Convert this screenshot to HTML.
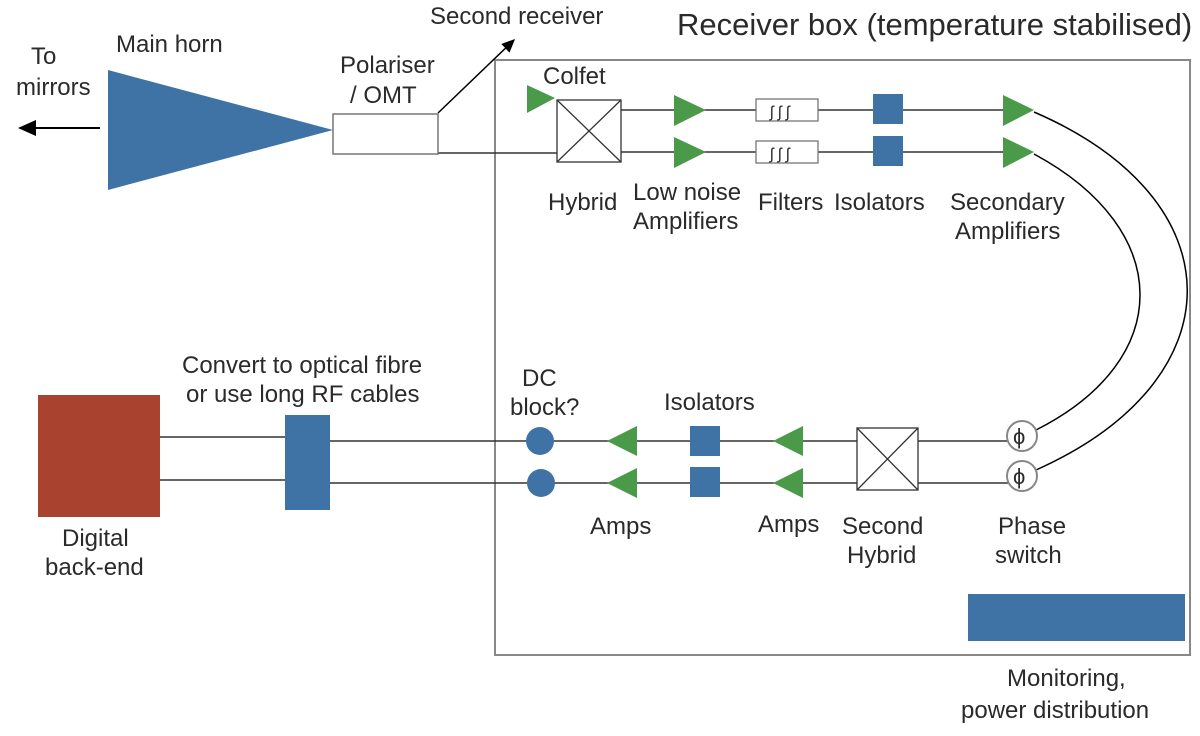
<!DOCTYPE html>
<html><head><meta charset="utf-8"><style>
body{margin:0;background:#fff}
svg text{font-family:"Liberation Sans",sans-serif;fill:#2a2a2a;font-size:24px}
</style></head><body>
<svg width="1200" height="731" viewBox="0 0 1200 731" xmlns="http://www.w3.org/2000/svg">
<defs><marker id="ah" markerWidth="10" markerHeight="10" refX="8" refY="5" orient="auto"><path d="M0,1 L9,5 L0,9 Z" fill="#000"/></marker></defs>
<g stroke="#333" stroke-width="1.5" fill="none">
<rect x="495" y="60" width="695" height="595" stroke="#888" stroke-width="2"/>
<line x1="100" y1="128" x2="20" y2="128" stroke="#000" stroke-width="2" marker-end="url(#ah)"/>
<line x1="438" y1="113" x2="514" y2="40" stroke="#000" marker-end="url(#ah)"/>
<line x1="438" y1="153" x2="557" y2="153"/>
<line x1="621" y1="110" x2="1005" y2="110"/>
<line x1="621" y1="152" x2="1005" y2="152"/>
<line x1="330" y1="441" x2="1008" y2="441"/>
<line x1="330" y1="483" x2="1008" y2="483"/>
<line x1="160" y1="437" x2="290" y2="437"/>
<line x1="160" y1="480" x2="290" y2="480"/>
<path d="M1034,112 C1238,200 1238,380 1036,470" stroke="#000"/>
<path d="M1034,154 C1175,230 1175,360 1036,430" stroke="#000"/>
</g>
<polygon points="108,70 333,130 108,190" fill="#3f73a5"/>
<rect x="333" y="114" width="105" height="40" fill="#fff" stroke="#777" stroke-width="1.5"/>
<rect x="38" y="395" width="122" height="122" fill="#a9432f"/>
<rect x="285" y="415" width="45" height="95" fill="#3f73a5"/>
<rect x="968" y="594" width="217" height="47" fill="#3f73a5"/>
<polygon points="527,85 555,98 527,113" fill="#4a9a4a"/>
<g stroke="#333" stroke-width="1.3" fill="#fff">
<rect x="557" y="100" width="64" height="62"/>
<line x1="557" y1="100" x2="621" y2="162"/><line x1="621" y1="100" x2="557" y2="162"/>
<rect x="857" y="428" width="61" height="62"/>
<line x1="857" y1="428" x2="918" y2="490"/><line x1="918" y1="428" x2="857" y2="490"/>
<rect x="756" y="99" width="62" height="22" stroke="#777"/>
<rect x="756" y="141" width="62" height="22" stroke="#777"/>
</g>
<text x="770" y="117" style="font-size:16px">ʃ ʃ ʃ</text>
<text x="770" y="159" style="font-size:16px">ʃ ʃ ʃ</text>
<g fill="#4a9a4a">
<polygon points="674,95 706,110 674,126"/><polygon points="674,137 706,152 674,168"/>
<polygon points="1003,95 1034,110 1003,126"/><polygon points="1003,137 1034,152 1003,168"/>
<polygon points="637,426 607,441 637,456"/><polygon points="637,468 607,483 637,498"/>
<polygon points="803,426 773,441 803,456"/><polygon points="803,468 773,483 803,498"/>
</g>
<g fill="#3f73a5">
<rect x="873" y="94" width="30" height="30"/><rect x="873" y="136" width="30" height="30"/>
<rect x="690" y="426" width="30" height="30"/><rect x="690" y="467" width="30" height="30"/>
<circle cx="540" cy="441" r="14"/><circle cx="541" cy="483" r="14"/>
</g>
<g fill="#fff" stroke="#888" stroke-width="2">
<circle cx="1022" cy="436" r="15"/><circle cx="1022" cy="476" r="15"/>
</g>
<text x="1013" y="444" style="font-size:22px">ϕ</text>
<text x="1013" y="484" style="font-size:22px">ϕ</text>
<text x="31" y="64">To</text>
<text x="16" y="95">mirrors</text>
<text x="116" y="52">Main horn</text>
<text x="430" y="24">Second receiver</text>
<text x="340" y="73">Polariser</text>
<text x="350" y="103">/ OMT</text>
<text x="677" y="35" style="font-size:31px">Receiver box (temperature stabilised)</text>
<text x="543" y="84">Colfet</text>
<text x="548" y="210">Hybrid</text>
<text x="633" y="200">Low noise</text>
<text x="633" y="229">Amplifiers</text>
<text x="758" y="210">Filters</text>
<text x="834" y="210">Isolators</text>
<text x="950" y="210">Secondary</text>
<text x="955" y="239">Amplifiers</text>
<text x="182" y="373">Convert to optical fibre</text>
<text x="186" y="402">or use long RF cables</text>
<text x="522" y="386">DC</text>
<text x="510" y="415">block?</text>
<text x="664" y="410">Isolators</text>
<text x="590" y="534">Amps</text>
<text x="758" y="532">Amps</text>
<text x="842" y="534">Second</text>
<text x="847" y="563">Hybrid</text>
<text x="998" y="534">Phase</text>
<text x="995" y="563">switch</text>
<text x="62" y="546">Digital</text>
<text x="45" y="575">back-end</text>
<text x="1007" y="686">Monitoring,</text>
<text x="961" y="718">power distribution</text>
</svg>
</body></html>
